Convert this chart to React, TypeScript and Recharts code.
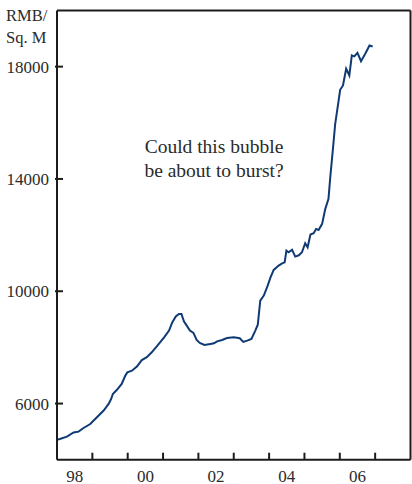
import React from "react";
import { LineChart, Line, XAxis, YAxis, ReferenceLine } from "recharts";

const dates = [
  1998.02, 1998.08, 1998.28, 1998.47, 1998.61, 1998.75, 1998.94, 1999.13, 1999.32, 1999.46,
  1999.53, 1999.58, 1999.69, 1999.83, 1999.93, 1999.99, 2000.12, 2000.26, 2000.4, 2000.54,
  2000.68, 2000.84, 2001.03, 2001.17, 2001.26, 2001.36, 2001.45, 2001.52, 2001.59, 2001.67,
  2001.76, 2001.86, 2001.95, 2002.04, 2002.17, 2002.34, 2002.44, 2002.53, 2002.67, 2002.81,
  2003.0, 2003.17, 2003.27, 2003.38, 2003.5, 2003.61, 2003.68, 2003.75, 2003.85, 2003.96,
  2004.04, 2004.13, 2004.27, 2004.37, 2004.44, 2004.49, 2004.55, 2004.65, 2004.74, 2004.84,
  2004.93, 2005.02, 2005.09, 2005.17, 2005.26, 2005.33, 2005.4, 2005.5, 2005.59, 2005.68,
  2005.73, 2005.81, 2005.87, 2005.96, 2006.01, 2006.09, 2006.18, 2006.27, 2006.34, 2006.41,
  2006.5, 2006.6, 2006.72, 2006.84, 2006.93,
];

const prices = [
  4720, 4740, 4820, 4970, 5000, 5130, 5270, 5510, 5750, 5985,
  6160, 6340, 6480, 6700, 6990, 7110, 7170, 7315, 7550, 7650,
  7825, 8065, 8360, 8600, 8890, 9100, 9190, 9190, 8930, 8775,
  8600, 8515, 8265, 8160, 8090, 8125, 8145, 8215, 8265, 8335,
  8360, 8325, 8195, 8240, 8300, 8600, 8810, 9665, 9845, 10200,
  10495, 10760, 10915, 10995, 11030, 11450, 11390, 11475, 11235, 11280,
  11390, 11710, 11565, 12020, 12065, 12220, 12185, 12400, 12935, 13290,
  14060, 15130, 15965, 16735, 17175, 17330, 17925, 17685, 18400, 18365,
  18495, 18195, 18460, 18755, 18720,
];

const tickMarkYears = [1999, 2000, 2001, 2002, 2003, 2004, 2005, 2006, 2007];
const labelYears = [1998.5, 2000.5, 2002.5, 2004.5, 2006.5];
const labelTexts = ["98", "00", "02", "04", "06"];
const yTicks = [6000, 10000, 14000, 18000];

const data = dates.map((d, i) => ({ date: d, price: prices[i] }));
const xTicks = [...tickMarkYears, ...labelYears].sort((a, b) => a - b);

const FONT = "'Liberation Serif', 'DejaVu Serif', serif";
const TEXT = "#2b2b2b";
const AXIS = "#1c1c1c";
const LINE = "#0f3a74";

const XTick = (props: any) => {
  const { x, y, payload } = props;
  const v = payload.value;
  const li = labelYears.indexOf(v);
  if (li >= 0) {
    return (
      <text x={x} y={y + 21.8} textAnchor="middle" fontFamily={FONT} fontSize={17} fill={TEXT}>
        {labelTexts[li]}
      </text>
    );
  }
  return <line x1={x} x2={x} y1={y} y2={y - 7} stroke={AXIS} strokeWidth={2} />;
};

const YTickLeft = (props: any) => {
  const { x, y, payload } = props;
  return (
    <g>
      <line x1={x - 2} x2={x + 6} y1={y} y2={y} stroke={AXIS} strokeWidth={2} />
      <text x={x - 8} y={y} dy="0.36em" textAnchor="end" fontFamily={FONT} fontSize={17} fill={TEXT}>
        {payload.value}
      </text>
    </g>
  );
};

const YTickRight = (props: any) => {
  const { x, y } = props;
  return <line x1={x - 6} x2={x + 1} y1={y} y2={y} stroke={AXIS} strokeWidth={2} />;
};

export default function App() {
  return (
    <div style={{ position: "absolute", left: 0, top: 0, width: 412, height: 484, background: "#fff" }}>
      <LineChart
        width={412}
        height={484}
        data={data}
        margin={{ top: 10.5, right: 0, bottom: 0, left: 0 }}
      >
        <XAxis
          dataKey="date"
          type="number"
          domain={[1998, 2008]}
          ticks={xTicks}
          interval={0}
          tick={<XTick />}
          tickLine={false}
          tickSize={0}
          tickMargin={0}
          height={24.3}
          axisLine={{ stroke: AXIS, strokeWidth: 2 }}
        />
        <YAxis
          yAxisId="left"
          type="number"
          domain={[4000, 20000]}
          ticks={yTicks}
          interval={0}
          tick={<YTickLeft />}
          tickLine={false}
          tickSize={0}
          tickMargin={0}
          width={57}
          axisLine={{ stroke: AXIS, strokeWidth: 2 }}
        />
        <YAxis
          yAxisId="right"
          orientation="right"
          type="number"
          domain={[4000, 20000]}
          ticks={yTicks}
          interval={0}
          tick={<YTickRight />}
          tickLine={false}
          tickSize={0}
          tickMargin={0}
          width={1.5}
          axisLine={{ stroke: AXIS, strokeWidth: 2 }}
        />
        <ReferenceLine yAxisId="left" y={20000} stroke={AXIS} strokeWidth={2} />
        <Line
          yAxisId="left"
          type="linear"
          dataKey="price"
          stroke={LINE}
          strokeWidth={2}
          dot={false}
          isAnimationActive={false}
        />
      </LineChart>
      <svg
        width={412}
        height={484}
        style={{ position: "absolute", left: 0, top: 0, pointerEvents: "none" }}
      >
        <text x={6} y={21} fontFamily={FONT} fontSize={16.5} fill={TEXT}>RMB/</text>
        <text x={6} y={43} fontFamily={FONT} fontSize={16.5} fill={TEXT}>Sq. M</text>
        <text x={214} y={153} textAnchor="middle" fontFamily={FONT} fontSize={19.5} fill={TEXT}>
          Could this bubble
        </text>
        <text x={214} y={177} textAnchor="middle" fontFamily={FONT} fontSize={19.5} fill={TEXT}>
          be about to burst?
        </text>
      </svg>
    </div>
  );
}
